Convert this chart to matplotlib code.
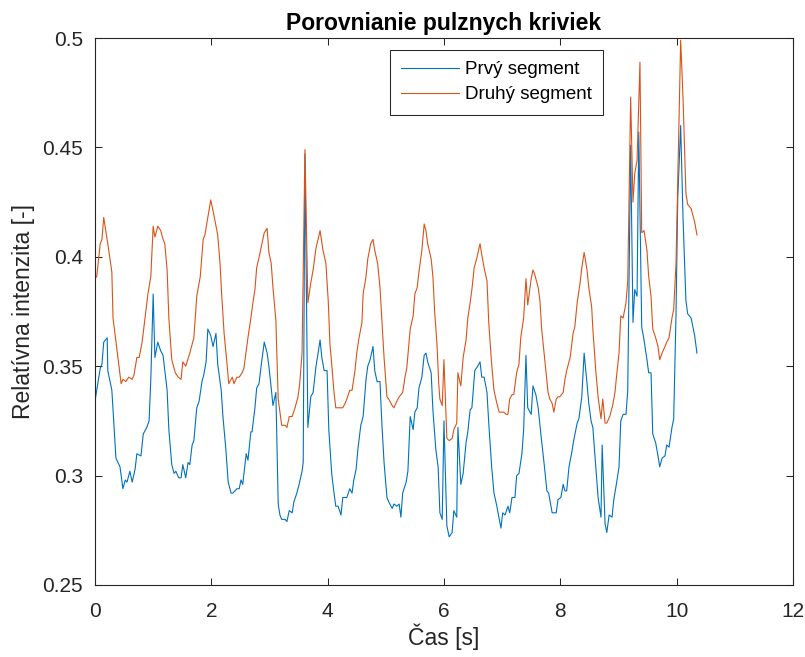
import matplotlib
matplotlib.use("Agg")
import matplotlib.pyplot as plt

plt.rcParams['font.family'] = ['Liberation Sans', 'DejaVu Sans']

# Prvý segment (modrá)
t_prvy = [0.00, 0.03, 0.09, 0.12, 0.15, 0.21, 0.22, 0.29, 0.33, 0.36,
          0.43, 0.48, 0.52, 0.55, 0.60, 0.64, 0.69, 0.72, 0.79, 0.83,
          0.89, 0.93, 0.96, 1.00, 1.03, 1.08, 1.13, 1.17, 1.20, 1.24,
          1.27, 1.32, 1.36, 1.39, 1.44, 1.48, 1.51, 1.56, 1.60, 1.63,
          1.67, 1.70, 1.75, 1.79, 1.84, 1.87, 1.91, 1.94, 1.99, 2.03,
          2.08, 2.11, 2.17, 2.20, 2.25, 2.29, 2.34, 2.37, 2.44, 2.48,
          2.51, 2.54, 2.60, 2.63, 2.68, 2.70, 2.75, 2.78, 2.82, 2.87,
          2.91, 2.96, 2.99, 3.03, 3.06, 3.11, 3.15, 3.18, 3.21, 3.27,
          3.30, 3.34, 3.39, 3.42, 3.47, 3.51, 3.56, 3.58, 3.61, 3.66,
          3.71, 3.75, 3.80, 3.83, 3.87, 3.90, 3.94, 3.99, 4.02, 4.07,
          4.11, 4.14, 4.18, 4.23, 4.26, 4.30, 4.33, 4.38, 4.42, 4.45,
          4.49, 4.52, 4.57, 4.61, 4.66, 4.69, 4.73, 4.78, 4.81, 4.85,
          4.90, 4.93, 4.97, 5.02, 5.05, 5.11, 5.14, 5.19, 5.23, 5.26,
          5.29, 5.35, 5.38, 5.42, 5.47, 5.50, 5.54, 5.57, 5.62, 5.66,
          5.69, 5.72, 5.78, 5.81, 5.86, 5.90, 5.93, 5.97, 6.00, 6.05,
          6.09, 6.14, 6.17, 6.22, 6.24, 6.29, 6.33, 6.38, 6.41, 6.45,
          6.48, 6.53, 6.58, 6.62, 6.65, 6.69, 6.74, 6.77, 6.82, 6.86,
          6.91, 6.93, 6.98, 7.01, 7.05, 7.10, 7.13, 7.17, 7.22, 7.25,
          7.29, 7.34, 7.37, 7.41, 7.44, 7.50, 7.53, 7.58, 7.62, 7.67,
          7.72, 7.77, 7.80, 7.86, 7.89, 7.93, 7.96, 8.01, 8.05, 8.08,
          8.11, 8.15, 8.20, 8.23, 8.29, 8.32, 8.37, 8.41, 8.46, 8.49,
          8.53, 8.56, 8.61, 8.65, 8.70, 8.72, 8.77, 8.80, 8.84, 8.89,
          8.92, 8.97, 9.01, 9.04, 9.08, 9.13, 9.16, 9.21, 9.25, 9.28,
          9.32, 9.35, 9.40, 9.44, 9.49, 9.52, 9.56, 9.59, 9.64, 9.68,
          9.71, 9.75, 9.80, 9.83, 9.87, 9.92, 9.95, 9.99, 10.02, 10.07,
          10.11, 10.16, 10.19, 10.25, 10.28, 10.31, 10.35]
prvy = [0.334, 0.339, 0.349, 0.351, 0.361, 0.363, 0.348, 0.339, 0.321, 0.308,
        0.304, 0.294, 0.298, 0.297, 0.302, 0.297, 0.303, 0.310, 0.309, 0.319,
        0.322, 0.325, 0.344, 0.383, 0.354, 0.361, 0.357, 0.355, 0.348, 0.339,
        0.321, 0.305, 0.301, 0.302, 0.299, 0.299, 0.305, 0.299, 0.306, 0.305,
        0.314, 0.316, 0.331, 0.334, 0.343, 0.346, 0.352, 0.367, 0.364, 0.359,
        0.365, 0.351, 0.339, 0.327, 0.312, 0.297, 0.292, 0.292, 0.294, 0.294,
        0.298, 0.296, 0.310, 0.307, 0.320, 0.320, 0.331, 0.340, 0.342, 0.353,
        0.361, 0.356, 0.350, 0.340, 0.332, 0.338, 0.287, 0.282, 0.280, 0.280,
        0.279, 0.284, 0.283, 0.288, 0.292, 0.296, 0.302, 0.306, 0.447, 0.322,
        0.336, 0.338, 0.350, 0.355, 0.362, 0.354, 0.348, 0.348, 0.321, 0.301,
        0.292, 0.286, 0.286, 0.282, 0.290, 0.290, 0.290, 0.294, 0.292, 0.298,
        0.303, 0.312, 0.323, 0.327, 0.344, 0.350, 0.353, 0.359, 0.348, 0.343,
        0.343, 0.325, 0.306, 0.290, 0.288, 0.285, 0.287, 0.286, 0.287, 0.281,
        0.292, 0.297, 0.302, 0.327, 0.321, 0.329, 0.331, 0.340, 0.345, 0.355,
        0.356, 0.352, 0.347, 0.330, 0.312, 0.304, 0.283, 0.280, 0.325, 0.277,
        0.272, 0.274, 0.284, 0.281, 0.322, 0.296, 0.301, 0.315, 0.320, 0.330,
        0.331, 0.348, 0.350, 0.352, 0.345, 0.345, 0.338, 0.324, 0.304, 0.292,
        0.286, 0.283, 0.276, 0.283, 0.282, 0.286, 0.283, 0.290, 0.290, 0.300,
        0.301, 0.310, 0.321, 0.355, 0.331, 0.328, 0.341, 0.337, 0.331, 0.318,
        0.306, 0.293, 0.292, 0.283, 0.283, 0.283, 0.289, 0.290, 0.296, 0.293,
        0.293, 0.304, 0.311, 0.316, 0.324, 0.326, 0.336, 0.356, 0.342, 0.333,
        0.325, 0.322, 0.304, 0.290, 0.281, 0.314, 0.278, 0.274, 0.282, 0.281,
        0.289, 0.297, 0.304, 0.325, 0.328, 0.328, 0.339, 0.451, 0.370, 0.385,
        0.382, 0.457, 0.368, 0.362, 0.353, 0.347, 0.347, 0.319, 0.315, 0.309,
        0.304, 0.308, 0.309, 0.314, 0.313, 0.322, 0.326, 0.374, 0.427, 0.460,
        0.418, 0.380, 0.374, 0.372, 0.368, 0.364, 0.356]

# Druhý segment (oranžová)
t_druhy = [0.00, 0.03, 0.09, 0.12, 0.15, 0.22, 0.29, 0.31, 0.38, 0.45,
           0.48, 0.53, 0.58, 0.64, 0.67, 0.72, 0.76, 0.81, 0.86, 0.91,
           0.96, 1.00, 1.03, 1.08, 1.13, 1.17, 1.20, 1.24, 1.27, 1.32,
           1.38, 1.43, 1.48, 1.51, 1.56, 1.63, 1.70, 1.75, 1.81, 1.86,
           1.89, 1.94, 1.99, 2.03, 2.11, 2.15, 2.18, 2.22, 2.27, 2.30,
           2.36, 2.39, 2.44, 2.48, 2.53, 2.56, 2.60, 2.63, 2.68, 2.72,
           2.75, 2.78, 2.84, 2.87, 2.91, 2.96, 2.99, 3.03, 3.06, 3.11,
           3.15, 3.18, 3.21, 3.27, 3.30, 3.34, 3.39, 3.44, 3.49, 3.52,
           3.56, 3.61, 3.66, 3.71, 3.75, 3.80, 3.87, 3.92, 3.97, 4.01,
           4.04, 4.07, 4.11, 4.14, 4.19, 4.23, 4.26, 4.30, 4.33, 4.38,
           4.42, 4.47, 4.50, 4.54, 4.59, 4.61, 4.66, 4.69, 4.74, 4.78,
           4.81, 4.86, 4.90, 4.93, 4.97, 5.02, 5.05, 5.11, 5.14, 5.19,
           5.23, 5.29, 5.33, 5.36, 5.42, 5.47, 5.50, 5.54, 5.57, 5.62,
           5.66, 5.69, 5.72, 5.78, 5.81, 5.84, 5.88, 5.91, 5.93, 5.97,
           6.00, 6.05, 6.09, 6.14, 6.17, 6.22, 6.24, 6.29, 6.33, 6.38,
           6.41, 6.45, 6.48, 6.52, 6.57, 6.62, 6.65, 6.69, 6.74, 6.77,
           6.82, 6.86, 6.91, 6.95, 7.00, 7.03, 7.07, 7.10, 7.13, 7.17,
           7.20, 7.25, 7.29, 7.32, 7.37, 7.41, 7.44, 7.50, 7.53, 7.56,
           7.62, 7.65, 7.68, 7.74, 7.79, 7.82, 7.86, 7.89, 7.93, 7.96,
           7.99, 8.05, 8.08, 8.11, 8.17, 8.22, 8.25, 8.29, 8.34, 8.37,
           8.41, 8.46, 8.49, 8.54, 8.56, 8.61, 8.65, 8.70, 8.73, 8.77,
           8.80, 8.85, 8.90, 8.94, 8.97, 9.01, 9.04, 9.08, 9.13, 9.16,
           9.21, 9.25, 9.28, 9.32, 9.37, 9.40, 9.44, 9.49, 9.52, 9.56,
           9.59, 9.64, 9.68, 9.71, 9.75, 9.80, 9.83, 9.87, 9.92, 9.95,
           9.99, 10.02, 10.07, 10.11, 10.16, 10.19, 10.25, 10.28, 10.31, 10.35]
druhy = [0.390, 0.391, 0.406, 0.408, 0.418, 0.406, 0.393, 0.372, 0.357, 0.342,
         0.344, 0.343, 0.345, 0.344, 0.346, 0.354, 0.354, 0.361, 0.372, 0.383,
         0.391, 0.414, 0.409, 0.414, 0.412, 0.408, 0.406, 0.394, 0.372, 0.353,
         0.347, 0.345, 0.344, 0.352, 0.350, 0.356, 0.363, 0.382, 0.391, 0.408,
         0.410, 0.418, 0.426, 0.421, 0.410, 0.397, 0.382, 0.365, 0.351, 0.342,
         0.345, 0.342, 0.345, 0.345, 0.347, 0.349, 0.357, 0.363, 0.372, 0.380,
         0.385, 0.395, 0.402, 0.406, 0.411, 0.413, 0.402, 0.397, 0.386, 0.371,
         0.335, 0.329, 0.323, 0.323, 0.322, 0.327, 0.327, 0.331, 0.336, 0.342,
         0.356, 0.449, 0.379, 0.388, 0.394, 0.404, 0.412, 0.403, 0.397, 0.380,
         0.360, 0.351, 0.338, 0.331, 0.331, 0.331, 0.331, 0.333, 0.335, 0.339,
         0.339, 0.348, 0.356, 0.363, 0.370, 0.383, 0.391, 0.399, 0.406, 0.408,
         0.403, 0.397, 0.386, 0.372, 0.354, 0.336, 0.335, 0.332, 0.331, 0.334,
         0.336, 0.338, 0.345, 0.349, 0.367, 0.373, 0.383, 0.386, 0.393, 0.403,
         0.415, 0.412, 0.406, 0.399, 0.391, 0.375, 0.360, 0.342, 0.335, 0.332,
         0.353, 0.317, 0.316, 0.317, 0.321, 0.324, 0.347, 0.341, 0.354, 0.362,
         0.372, 0.379, 0.385, 0.395, 0.400, 0.406, 0.401, 0.395, 0.389, 0.370,
         0.351, 0.339, 0.333, 0.329, 0.329, 0.329, 0.328, 0.328, 0.335, 0.337,
         0.337, 0.347, 0.351, 0.363, 0.372, 0.390, 0.378, 0.390, 0.394, 0.392,
         0.386, 0.380, 0.367, 0.351, 0.338, 0.335, 0.333, 0.329, 0.335, 0.336,
         0.336, 0.338, 0.344, 0.348, 0.354, 0.365, 0.368, 0.379, 0.388, 0.395,
         0.402, 0.394, 0.386, 0.377, 0.367, 0.348, 0.336, 0.326, 0.335, 0.324,
         0.324, 0.327, 0.332, 0.338, 0.346, 0.356, 0.373, 0.372, 0.379, 0.389,
         0.473, 0.425, 0.438, 0.444, 0.489, 0.411, 0.412, 0.403, 0.391, 0.382,
         0.367, 0.363, 0.359, 0.353, 0.356, 0.359, 0.361, 0.363, 0.372, 0.376,
         0.397, 0.435, 0.499, 0.473, 0.429, 0.424, 0.422, 0.419, 0.416, 0.410]

x_ticks = [0, 2, 4, 6, 8, 10, 12]
y_ticks = [0.25, 0.3, 0.35, 0.4, 0.45, 0.5]
y_labels = ['0.25', '0.3', '0.35', '0.4', '0.45', '0.5']

fig = plt.figure(figsize=(8.05, 6.57), dpi=100)
ax = fig.add_axes([0.118, 0.1096, 0.867, 0.8325])

ax.plot(t_prvy, prvy, color='#0072BD', lw=0.8, label='Prvý segment')
ax.plot(t_druhy, druhy, color='#D95319', lw=0.8, label='Druhý segment')

ax.set_xlim(0, 12)
ax.set_ylim(0.25, 0.5)
ax.set_xticks(x_ticks)
ax.set_xticklabels([str(v) for v in x_ticks])
ax.set_yticks(y_ticks)
ax.set_yticklabels(y_labels)

dark = '#262626'
ax.tick_params(direction='in', length=5, width=0.75, colors=dark,
               labelsize=15, top=True, right=True)
ax.tick_params(axis='x', pad=12)
ax.tick_params(axis='y', pad=8.5)
for s in ax.spines.values():
    s.set_color(dark)
    s.set_linewidth(0.8)

ax.set_title('Porovnianie pulznych kriviek', fontsize=16.5, fontweight='bold',
             color='black', pad=6)
ax.set_xlabel('Čas [s]', fontsize=16.5, color=dark, labelpad=2)
ax.set_ylabel('Relatívna intenzita [-]', fontsize=16.5, color=dark, labelpad=5)

leg = ax.legend(loc='upper right', bbox_to_anchor=(0.728, 0.978), fontsize=13.5,
                frameon=True, fancybox=False, framealpha=1, edgecolor=dark,
                handlelength=3.1, handletextpad=0.3, borderpad=0.6,
                labelspacing=0.42, borderaxespad=0)
leg.get_frame().set_linewidth(0.75)

fig.savefig('out.png', dpi=100)
